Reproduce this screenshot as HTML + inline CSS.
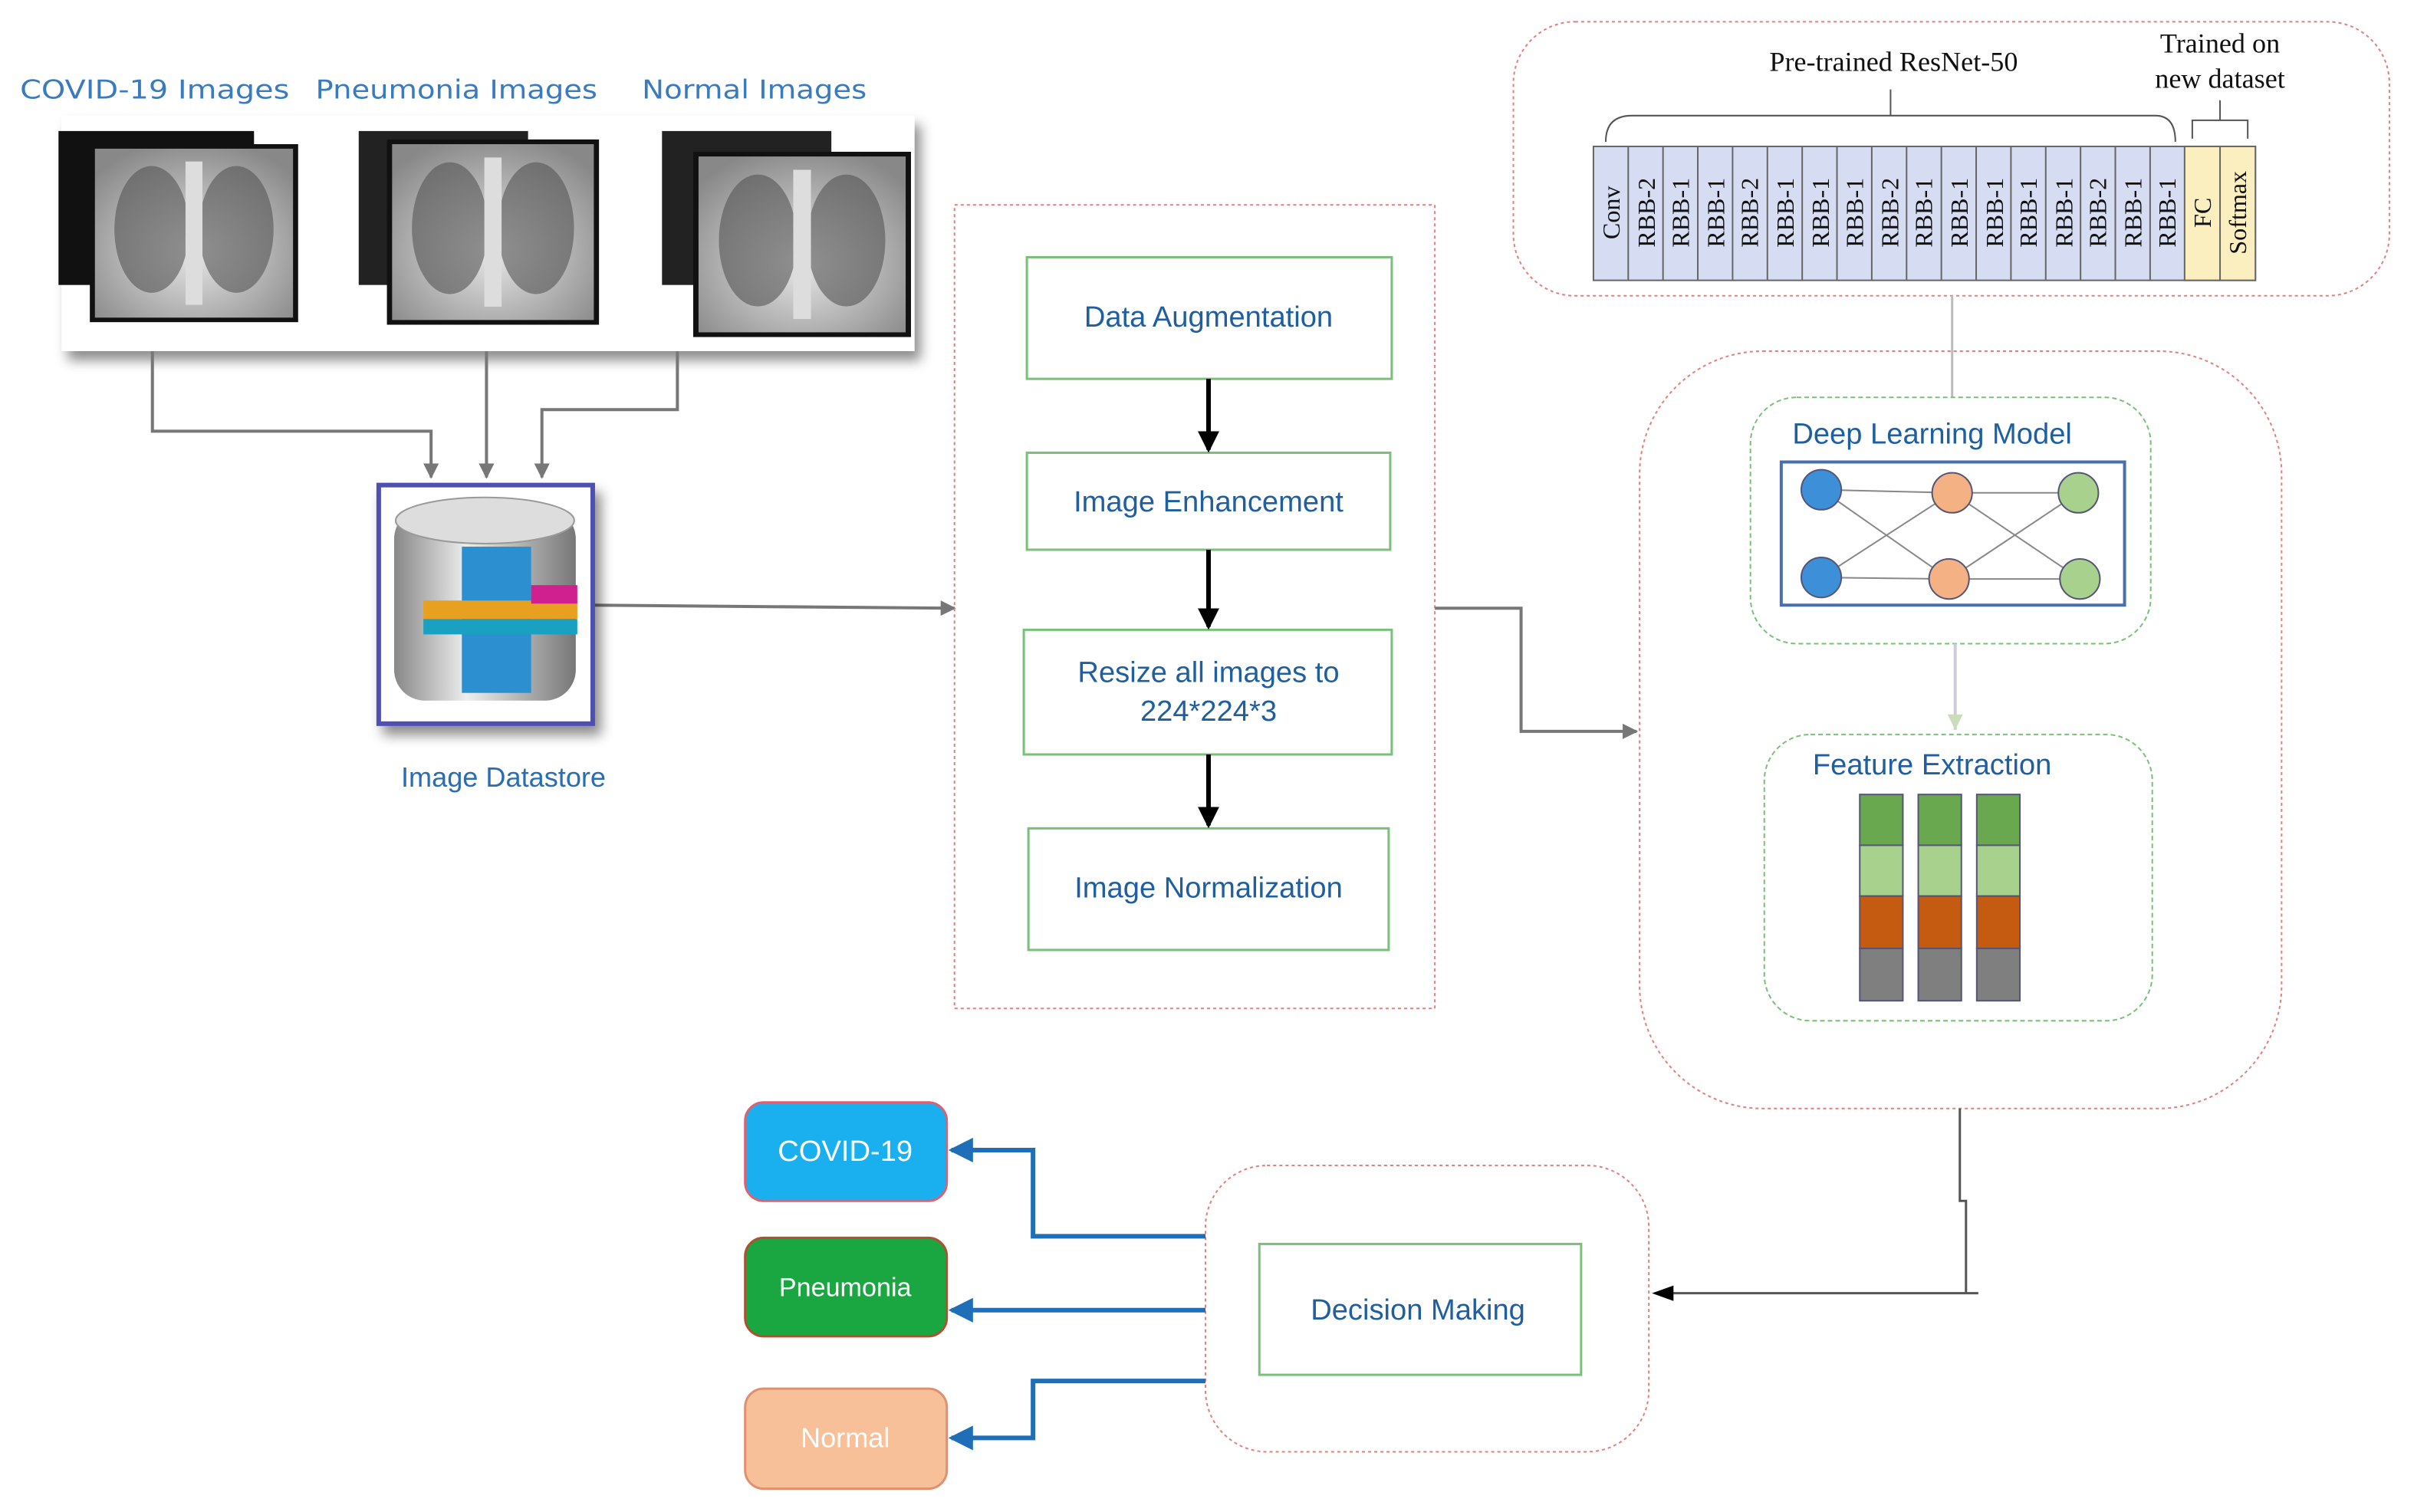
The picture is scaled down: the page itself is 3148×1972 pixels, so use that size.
<!DOCTYPE html>
<html><head><meta charset="utf-8"><style>html,body{margin:0;padding:0;background:#fff}svg{display:block}</style></head><body>
<svg width="3148" height="1972" viewBox="0 0 1568 982" xmlns="http://www.w3.org/2000/svg" font-family="Liberation Sans, sans-serif">
<defs>
<marker id="ag" markerWidth="10" markerHeight="10" refX="9" refY="5" orient="auto" markerUnits="userSpaceOnUse"><path d="M0,0 L10,5 L0,10 z" fill="#777"/></marker>
<marker id="ak" markerWidth="14" markerHeight="14" refX="12" refY="7" orient="auto" markerUnits="userSpaceOnUse"><path d="M0,0 L14,7 L0,14 z" fill="#000"/></marker>
<marker id="ab" markerWidth="16" markerHeight="16" refX="14" refY="8" orient="auto" markerUnits="userSpaceOnUse"><path d="M0,0 L16,8 L0,16 z" fill="#1f6fb8"/></marker>
<radialGradient id="xr" cx="50%" cy="60%" r="65%"><stop offset="0" stop-color="#e8e8e8"/><stop offset="1" stop-color="#888"/></radialGradient>
<linearGradient id="cyl" x1="0" x2="1"><stop offset="0" stop-color="#888"/><stop offset=".4" stop-color="#eee"/><stop offset="1" stop-color="#777"/></linearGradient>
<filter id="sh"><feDropShadow dx="4" dy="6" stdDeviation="4" flood-opacity="0.45"/></filter>
<g id="xray">
<rect x="0" y="0" width="120" height="115" fill="url(#xr)"/>
<ellipse cx="35" cy="55" rx="22" ry="42" fill="#555" opacity=".6"/>
<ellipse cx="85" cy="55" rx="22" ry="42" fill="#555" opacity=".6"/>
<rect x="55" y="10" width="10" height="95" fill="#ddd"/>
<rect x="0" y="0" width="120" height="115" fill="none" stroke="#111" stroke-width="3"/>
</g>
</defs>

<g fill="#3a7bbf" font-size="17" font-family="DejaVu Sans, sans-serif">
<text x="13" y="64" textLength="175" lengthAdjust="spacingAndGlyphs">COVID-19 Images</text>
<text x="205" y="64" textLength="183" lengthAdjust="spacingAndGlyphs">Pneumonia Images</text>
<text x="417" y="64" textLength="146" lengthAdjust="spacingAndGlyphs">Normal Images</text>
</g>
<rect x="40" y="75" width="554" height="153" fill="#fff" filter="url(#sh)"/>
<rect x="38" y="85" width="127" height="100" fill="#111"/>
<use href="#xray" transform="translate(60,95) scale(1.1,0.98)"/>
<rect x="233" y="85" width="110" height="100" fill="#222"/>
<use href="#xray" transform="translate(253,92) scale(1.12,1.02)"/>
<rect x="430" y="85" width="110" height="100" fill="#222"/>
<use href="#xray" transform="translate(452,100) scale(1.15,1.02)"/>

<g stroke="#777" stroke-width="2" fill="none">
<path d="M99,228 V280 H280 V310" marker-end="url(#ag)"/>
<path d="M316,228 V310" marker-end="url(#ag)"/>
<path d="M440,228 V266 H352 V310" marker-end="url(#ag)"/>
<path d="M385,393 L620,395" marker-end="url(#ag)"/>
</g>
<rect x="246" y="315" width="139" height="155" fill="#fff" stroke="#5050b0" stroke-width="3" filter="url(#sh)"/>
<rect x="256" y="330" width="118" height="125" rx="20" fill="url(#cyl)"/>
<ellipse cx="315" cy="338" rx="58" ry="15" fill="#ddd" stroke="#999"/>
<rect x="300" y="355" width="45" height="95" fill="#2b8fd0"/>
<rect x="275" y="390" width="100" height="12" fill="#e8a020"/>
<rect x="275" y="402" width="100" height="10" fill="#1aa0c0"/>
<rect x="345" y="380" width="30" height="12" fill="#d02090"/>
<text x="327" y="511" text-anchor="middle" fill="#2a6db5" font-size="18">Image Datastore</text>

<rect x="620" y="133" width="312" height="522" fill="none" stroke="#e08080" stroke-dasharray="2,2"/>
<g fill="#fff" stroke="#7ac07a" stroke-width="1.5">
<rect x="667" y="167" width="237" height="79"/>
<rect x="667" y="294" width="236" height="63"/>
<rect x="665" y="409" width="239" height="81"/>
<rect x="668" y="538" width="234" height="79"/>
</g>
<g fill="#1f5fa0" font-size="19" text-anchor="middle">
<text x="785" y="212">Data Augmentation</text>
<text x="785" y="332">Image Enhancement</text>
<text x="785" y="443">Resize all images to</text>
<text x="785" y="468">224*224*3</text>
<text x="785" y="583">Image Normalization</text>
</g>
<g stroke="#000" stroke-width="3">
<line x1="785" y1="246" x2="785" y2="292" marker-end="url(#ak)"/>
<line x1="785" y1="357" x2="785" y2="407" marker-end="url(#ak)"/>
<line x1="785" y1="490" x2="785" y2="536" marker-end="url(#ak)"/>
</g>
<path d="M932,395 H988 V475 H1063" stroke="#777" stroke-width="2" fill="none" marker-end="url(#ag)"/>

<rect x="983" y="14" width="569" height="178" rx="40" fill="none" stroke="#e08080" stroke-dasharray="2,2"/>
<g font-family="Liberation Serif, serif" fill="#111" font-size="18" text-anchor="middle">
<text x="1230" y="46">Pre-trained ResNet-50</text>
<text x="1442" y="34">Trained on</text>
<text x="1442" y="57">new dataset</text>
</g>
<path d="M1043,92 Q1043,75 1060,75 H1400 Q1413,75 1413,92 M1228,75 V58" stroke="#555" fill="none"/>
<path d="M1424,90 V78 H1460 V90 M1442,78 V65" stroke="#555" fill="none"/>
<rect x="1035" y="95" width="430" height="87" fill="#d6dcf2" stroke="#666"/>
<rect x="1419" y="95" width="46" height="87" fill="#fbefc0" stroke="#666"/>
<g stroke="#666">
<line x1="1057.6" y1="95" x2="1057.6" y2="182"/><line x1="1080.2" y1="95" x2="1080.2" y2="182"/><line x1="1102.8" y1="95" x2="1102.8" y2="182"/><line x1="1125.4" y1="95" x2="1125.4" y2="182"/><line x1="1148" y1="95" x2="1148" y2="182"/><line x1="1170.6" y1="95" x2="1170.6" y2="182"/><line x1="1193.2" y1="95" x2="1193.2" y2="182"/><line x1="1215.8" y1="95" x2="1215.8" y2="182"/><line x1="1238.4" y1="95" x2="1238.4" y2="182"/><line x1="1261" y1="95" x2="1261" y2="182"/><line x1="1283.6" y1="95" x2="1283.6" y2="182"/><line x1="1306.2" y1="95" x2="1306.2" y2="182"/><line x1="1328.8" y1="95" x2="1328.8" y2="182"/><line x1="1351.4" y1="95" x2="1351.4" y2="182"/><line x1="1374" y1="95" x2="1374" y2="182"/><line x1="1396.6" y1="95" x2="1396.6" y2="182"/><line x1="1442" y1="95" x2="1442" y2="182"/>
</g>
<g font-family="Liberation Serif, serif" font-size="16" fill="#111" text-anchor="middle">
<text transform="translate(1052,138) rotate(-90)">Conv</text>
<text transform="translate(1075,138) rotate(-90)">RBB-2</text>
<text transform="translate(1097,138) rotate(-90)">RBB-1</text>
<text transform="translate(1120,138) rotate(-90)">RBB-1</text>
<text transform="translate(1142,138) rotate(-90)">RBB-2</text>
<text transform="translate(1165,138) rotate(-90)">RBB-1</text>
<text transform="translate(1188,138) rotate(-90)">RBB-1</text>
<text transform="translate(1210,138) rotate(-90)">RBB-1</text>
<text transform="translate(1233,138) rotate(-90)">RBB-2</text>
<text transform="translate(1255,138) rotate(-90)">RBB-1</text>
<text transform="translate(1278,138) rotate(-90)">RBB-1</text>
<text transform="translate(1301,138) rotate(-90)">RBB-1</text>
<text transform="translate(1323,138) rotate(-90)">RBB-1</text>
<text transform="translate(1346,138) rotate(-90)">RBB-1</text>
<text transform="translate(1368,138) rotate(-90)">RBB-2</text>
<text transform="translate(1391,138) rotate(-90)">RBB-1</text>
<text transform="translate(1413,138) rotate(-90)">RBB-1</text>
<text transform="translate(1436,138) rotate(-90)">FC</text>
<text transform="translate(1459,138) rotate(-90)">Softmax</text>
</g>
<line x1="1268" y1="192" x2="1268" y2="258" stroke="#bbb" stroke-width="1.5"/>

<rect x="1065" y="228" width="417" height="492" rx="80" fill="none" stroke="#e08080" stroke-dasharray="2,2"/>
<rect x="1137" y="258" width="260" height="160" rx="30" fill="none" stroke="#7ac07a" stroke-dasharray="3,2"/>
<text x="1255" y="288" text-anchor="middle" fill="#1f5fa0" font-size="19">Deep Learning Model</text>
<rect x="1157" y="300" width="223" height="93" fill="#fff" stroke="#4a6fb0" stroke-width="2"/>
<g stroke="#888" stroke-width="1">
<line x1="1183" y1="318" x2="1268" y2="320"/><line x1="1183" y1="318" x2="1266" y2="376"/><line x1="1183" y1="375" x2="1268" y2="320"/><line x1="1183" y1="375" x2="1266" y2="376"/>
<line x1="1268" y1="320" x2="1350" y2="320"/><line x1="1268" y1="320" x2="1351" y2="376"/><line x1="1266" y1="376" x2="1350" y2="320"/><line x1="1266" y1="376" x2="1351" y2="376"/>
</g>
<g stroke="#557" stroke-width="1">
<circle cx="1183" cy="318" r="13" fill="#3d8fd8"/><circle cx="1183" cy="375" r="13" fill="#3d8fd8"/>
<circle cx="1268" cy="320" r="13" fill="#f4b183"/><circle cx="1266" cy="376" r="13" fill="#f4b183"/>
<circle cx="1350" cy="320" r="13" fill="#a9d18e"/><circle cx="1351" cy="376" r="13" fill="#a9d18e"/>
</g>
<line x1="1270" y1="418" x2="1270" y2="474" stroke="#ccd" stroke-width="2"/>
<path d="M1265,464 L1275,464 L1270,474 z" fill="#cdb"/>
<rect x="1146" y="477" width="252" height="186" rx="30" fill="none" stroke="#7ac07a" stroke-dasharray="3,2"/>
<text x="1255" y="503" text-anchor="middle" fill="#1f5fa0" font-size="19">Feature Extraction</text>
<g stroke="#557" stroke-width="1">
<rect x="1208" y="516" width="28" height="33" fill="#6aa84f"/><rect x="1208" y="549" width="28" height="33" fill="#a9d18e"/><rect x="1208" y="582" width="28" height="34" fill="#c55a11"/><rect x="1208" y="616" width="28" height="34" fill="#7f7f7f"/>
<rect x="1246" y="516" width="28" height="33" fill="#6aa84f"/><rect x="1246" y="549" width="28" height="33" fill="#a9d18e"/><rect x="1246" y="582" width="28" height="34" fill="#c55a11"/><rect x="1246" y="616" width="28" height="34" fill="#7f7f7f"/>
<rect x="1284" y="516" width="28" height="33" fill="#6aa84f"/><rect x="1284" y="549" width="28" height="33" fill="#a9d18e"/><rect x="1284" y="582" width="28" height="34" fill="#c55a11"/><rect x="1284" y="616" width="28" height="34" fill="#7f7f7f"/>
</g>
<path d="M1273,720 V780 H1277 V840 M1285,840 H1075" stroke="#555" stroke-width="1.5" fill="none"/>
<path d="M1073,840 L1087,835 L1087,845 z" fill="#000"/>

<rect x="783" y="757" width="288" height="186" rx="40" fill="none" stroke="#e08080" stroke-dasharray="2,2"/>
<rect x="818" y="808" width="209" height="85" fill="#fff" stroke="#7ac07a" stroke-width="1.5"/>
<text x="921" y="857" text-anchor="middle" fill="#1f5fa0" font-size="19">Decision Making</text>
<g stroke="#1f6fb8" stroke-width="3" fill="none">
<path d="M783,803 H671 V747 H618" marker-end="url(#ab)"/>
<path d="M783,851 H618" marker-end="url(#ab)"/>
<path d="M783,897 H671 V934 H618" marker-end="url(#ab)"/>
</g>
<rect x="484" y="716" width="131" height="64" rx="12" fill="#1ab0f0" stroke="#e06070" stroke-width="1.5"/>
<text x="549" y="754" text-anchor="middle" fill="#fff" font-size="19">COVID-19</text>
<rect x="484" y="804" width="131" height="64" rx="12" fill="#1aa640" stroke="#b05030" stroke-width="1.5"/>
<text x="549" y="842" text-anchor="middle" fill="#fff" font-size="17">Pneumonia</text>
<rect x="484" y="902" width="131" height="65" rx="12" fill="#f8c098" stroke="#e09070" stroke-width="1.5"/>
<text x="549" y="940" text-anchor="middle" fill="#fff" font-size="18">Normal</text>
</svg>
</body></html>
